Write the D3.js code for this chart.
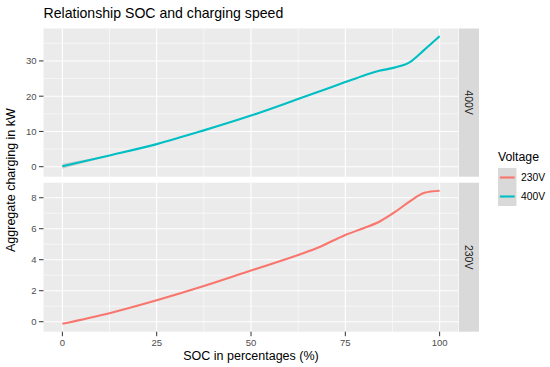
<!DOCTYPE html>
<html lang="en">
<head>
  <meta charset="UTF-8">
  <title>Relationship SOC and charging speed</title>
  <script src="https://d3js.org/d3.v7.min.js"></script>
  <style>
    body { margin: 0; padding: 0; overflow: hidden; background: #fff; }
    text { font-family: "Liberation Sans", Arial, sans-serif; }
  </style>
</head>
<body>
  <svg id="chart" width="550" height="367"></svg>

  <script>
    // Data
    const soc = [0, 12.5, 25, 37.5, 50, 62.5, 67.5, 75, 80, 84, 88, 92, 96, 100];
    const kw400 = [0.15, 3.2, 6.4, 10.3, 14.5, 19.2, 21.1, 24.0, 25.9, 27.2, 28.1, 29.6, 33.2, 37.0];
    const kw230 = [-0.13, 0.55, 1.38, 2.3, 3.3, 4.3, 4.75, 5.6, 6.05, 6.45, 7.05, 7.75, 8.32, 8.45];
    const se400 = [0.7, 0.15, 0.1, 0.1, 0.1, 0.1, 0.1, 0.1, 0.1, 0.1, 0.1, 0.1, 0.15, 0.3];

    const xTicks = [0, 25, 50, 75, 100];
    const xMinor = [12.5, 37.5, 62.5, 87.5];
    const voltages = ["230V", "400V"];
    const colors = ["#F8766D", "#00BFC4"];

    const panels = [
      { name: "400V", values: kw400, se: se400, color: colors[1], top: 28.5, bottom: 176.7,
        domain: [-2.84, 39.2], ticks: [0, 10, 20, 30], minor: [5, 15, 25, 35] },
      { name: "230V", values: kw230, se: null, color: colors[0], top: 182.7, bottom: 331.7,
        domain: [-0.645, 8.97], ticks: [0, 2, 4, 6, 8], minor: [1, 3, 5, 7] }
    ];

    const svg = d3.select("#chart");
    const left = 43.5, right = 458.5;
    const x = d3.scaleLinear().domain([-5, 105]).range([left, right]);

    panels.forEach(p => {
      const y = d3.scaleLinear().domain(p.domain).range([p.bottom, p.top]);
      const g = svg.append("g");

      g.append("rect")
        .attr("x", left).attr("y", p.top)
        .attr("width", right - left).attr("height", p.bottom - p.top)
        .attr("fill", "#ebebeb");

      // minor grid
      g.selectAll(".xm").data(xMinor).join("line")
        .attr("x1", d => x(d)).attr("x2", d => x(d))
        .attr("y1", p.top).attr("y2", p.bottom)
        .attr("stroke", "#fff").attr("stroke-width", 0.55);
      g.selectAll(".ym").data(p.minor).join("line")
        .attr("y1", d => y(d)).attr("y2", d => y(d))
        .attr("x1", left).attr("x2", right)
        .attr("stroke", "#fff").attr("stroke-width", 0.55);

      // major grid
      g.selectAll(".xg").data(xTicks).join("line")
        .attr("x1", d => x(d)).attr("x2", d => x(d))
        .attr("y1", p.top).attr("y2", p.bottom)
        .attr("stroke", "#fff").attr("stroke-width", 1.1);
      g.selectAll(".yg").data(p.ticks).join("line")
        .attr("y1", d => y(d)).attr("y2", d => y(d))
        .attr("x1", left).attr("x2", right)
        .attr("stroke", "#fff").attr("stroke-width", 1.1);

      // y axis ticks + labels
      g.selectAll(".yt").data(p.ticks).join("line")
        .attr("x1", left - 4.5).attr("x2", left)
        .attr("y1", d => y(d)).attr("y2", d => y(d))
        .attr("stroke", "#333").attr("stroke-width", 1);
      g.selectAll(".yl").data(p.ticks).join("text")
        .attr("x", left - 7).attr("y", d => y(d))
        .attr("dy", "0.35em").attr("text-anchor", "end")
        .attr("font-size", 9.5).attr("fill", "#4d4d4d")
        .text(d => d);

      const pts = soc.map((s, i) => ({ s, v: p.values[i], e: p.se ? p.se[i] : 0 }));

      if (p.se) {
        g.append("path").datum(pts)
          .attr("fill", "#999").attr("fill-opacity", 0.4)
          .attr("d", d3.area().curve(d3.curveMonotoneX)
            .x(d => x(d.s)).y0(d => y(d.v - d.e)).y1(d => y(d.v + d.e)));
      }

      g.append("path").datum(pts)
        .attr("fill", "none").attr("stroke", p.color).attr("stroke-width", 2.1)
        .attr("d", d3.line().curve(d3.curveMonotoneX).x(d => x(d.s)).y(d => y(d.v)));

      // strip
      g.append("rect")
        .attr("x", right + 0.5).attr("y", p.top)
        .attr("width", 20).attr("height", p.bottom - p.top)
        .attr("fill", "#d9d9d9");
      const cy = (p.top + p.bottom) / 2;
      g.append("text")
        .attr("transform", `translate(${right + 10.5},${cy}) rotate(90)`)
        .attr("text-anchor", "middle").attr("dy", "0.35em")
        .attr("font-size", 10.5).attr("fill", "#1a1a1a")
        .text(p.name);
    });

    // x axis
    const bottom = panels[1].bottom;
    svg.selectAll(".xt").data(xTicks).join("line")
      .attr("x1", d => x(d)).attr("x2", d => x(d))
      .attr("y1", bottom).attr("y2", bottom + 4.5)
      .attr("stroke", "#333").attr("stroke-width", 1);
    svg.selectAll(".xl").data(xTicks).join("text")
      .attr("x", d => x(d)).attr("y", bottom + 14)
      .attr("text-anchor", "middle")
      .attr("font-size", 9.5).attr("fill", "#4d4d4d")
      .text(d => d);

    svg.append("text")
      .attr("x", (left + right) / 2).attr("y", 360)
      .attr("text-anchor", "middle").attr("font-size", 12.5).attr("fill", "#000")
      .text("SOC in percentages (%)");

    svg.append("text")
      .attr("transform", `translate(15,${(panels[0].top + bottom) / 2}) rotate(-90)`)
      .attr("text-anchor", "middle").attr("font-size", 12.5).attr("fill", "#000")
      .text("Aggregate charging in kW");

    svg.append("text")
      .attr("x", left).attr("y", 18)
      .attr("font-size", 14.1).attr("fill", "#000")
      .text("Relationship SOC and charging speed");

    // legend
    const lg = svg.append("g").attr("transform", "translate(498,0)");
    lg.append("text").attr("x", 0).attr("y", 161)
      .attr("font-size", 12.3).attr("fill", "#000").text("Voltage");
    voltages.forEach((v, i) => {
      const ky = 168 + i * 19;
      lg.append("rect").attr("x", 0).attr("y", ky)
        .attr("width", 18.5).attr("height", 19).attr("fill", "#d9d9d9");
      lg.append("line").attr("x1", 1.8).attr("x2", 16.7)
        .attr("y1", ky + 9.5).attr("y2", ky + 9.5)
        .attr("stroke", colors[i]).attr("stroke-width", 2.1);
      lg.append("text").attr("x", 23).attr("y", ky + 9.5).attr("dy", "0.35em")
        .attr("font-size", 10.3).attr("fill", "#000").text(v);
    });
  </script>
</body>
</html>
